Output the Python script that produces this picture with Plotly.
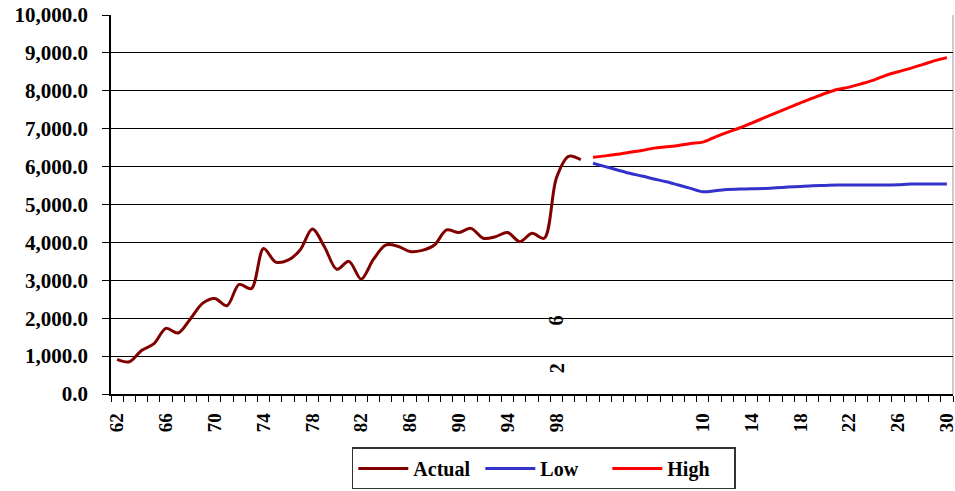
import plotly.graph_objects as go

actual_years = list(range(1962, 2001))
actual_vals = [915, 850, 1150, 1320, 1730, 1610, 1980, 2390, 2520, 2330,
               2890, 2780, 3840, 3480, 3530, 3800, 4354, 3880, 3290, 3500,
               3030, 3550, 3930, 3900, 3760, 3790, 3930, 4330, 4260, 4370,
               4110, 4150, 4260, 4020, 4240, 4110, 5700, 6270, 6180]

proj_years = list(range(2001, 2031))
low_vals = [6088, 6000, 5912, 5823, 5752, 5673, 5602, 5513, 5425, 5336,
            5363, 5398, 5407, 5416, 5425, 5442, 5460, 5478, 5496, 5504,
            5513, 5513, 5513, 5513, 5513, 5522, 5540, 5540, 5540, 5540]
high_vals = [6248, 6283, 6327, 6380, 6425, 6487, 6522, 6558, 6611, 6646,
             6779, 6903, 7018, 7150, 7283, 7416, 7549, 7681, 7805, 7929,
             8035, 8097, 8186, 8283, 8407, 8504, 8593, 8690, 8796, 8876]

tick_years = [1962, 1966, 1970, 1974, 1978, 1982, 1986, 1990, 1994, 1998,
              2010, 2014, 2018, 2022, 2026, 2030]
tick_text = ["62", "66", "70", "74", "78", "82", "86", "90", "94", "98",
             "10", "14", "18", "22", "26", "30"]

stray_labels = ["6", "2"]
stray_vals = [1950, 690]

FONT = "Liberation Serif"

fig = go.Figure()
fig.add_trace(go.Scatter(x=actual_years, y=actual_vals, name="Actual", mode="lines",
                         line=dict(color="#800000", width=3, shape="spline", smoothing=0.9)))
fig.add_trace(go.Scatter(x=proj_years, y=low_vals, name="Low", mode="lines",
                         line=dict(color="#3333CC", width=3, shape="spline", smoothing=0.9)))
fig.add_trace(go.Scatter(x=proj_years, y=high_vals, name="High", mode="lines",
                         line=dict(color="#FF0000", width=3, shape="spline", smoothing=0.9)))

for t, v in zip(stray_labels, stray_vals):
    fig.add_annotation(x=1998, y=v, text=t, showarrow=False, textangle=-90,
                       font=dict(family=FONT, size=20, color="black", weight="bold"))

fig.add_shape(type="line", xref="paper", yref="paper", x0=1, x1=1, y0=0, y1=1,
              line=dict(color="#999999", width=1), layer="below")

fig.update_layout(
    template="none",
    width=955, height=491,
    margin=dict(l=111, r=2, t=15, b=97, autoexpand=False),
    paper_bgcolor="white", plot_bgcolor="white",
    font=dict(family=FONT, color="black"),
    showlegend=True,
    legend=dict(orientation="h", x=0.286, xanchor="left",
                y=-0.141, yanchor="top", itemwidth=50,
                entrywidth=62, entrywidthmode="pixels",
                bordercolor="#333333", borderwidth=1.5, bgcolor="white",
                font=dict(family=FONT, size=20, color="black", weight="bold")),
    xaxis=dict(range=[1961.5, 2030.5], tickmode="array", tickvals=tick_years,
               ticktext=tick_text, ticks="", tickangle=-90, automargin=False,
               ticklabeloverflow="allow",
               tickfont=dict(family=FONT, size=19, color="black", weight="bold"),
               ticklabelstandoff=10,
               showline=True, linecolor="black", linewidth=1.5, showgrid=False,
               zeroline=False,
               minor=dict(ticks="outside", tick0=1961.5, dtick=1, ticklen=6,
                          tickcolor="black", tickwidth=1, showgrid=False)),
    yaxis=dict(range=[0, 10000], tickmode="linear", tick0=0, dtick=1000,
               tickformat=",.1f", ticks="outside", ticklen=7, tickcolor="black",
               automargin=False, ticklabeloverflow="allow",
               tickfont=dict(family=FONT, size=21, color="black", weight="bold"),
               ticklabelstandoff=10,
               showline=True, linecolor="black", linewidth=1.5,
               showgrid=True, gridcolor="black", gridwidth=1, zeroline=False),
)

fig.write_html("out.html", config={"displayModeBar": False},
               post_script="document.body.style.margin='0';document.body.style.padding='0';")
